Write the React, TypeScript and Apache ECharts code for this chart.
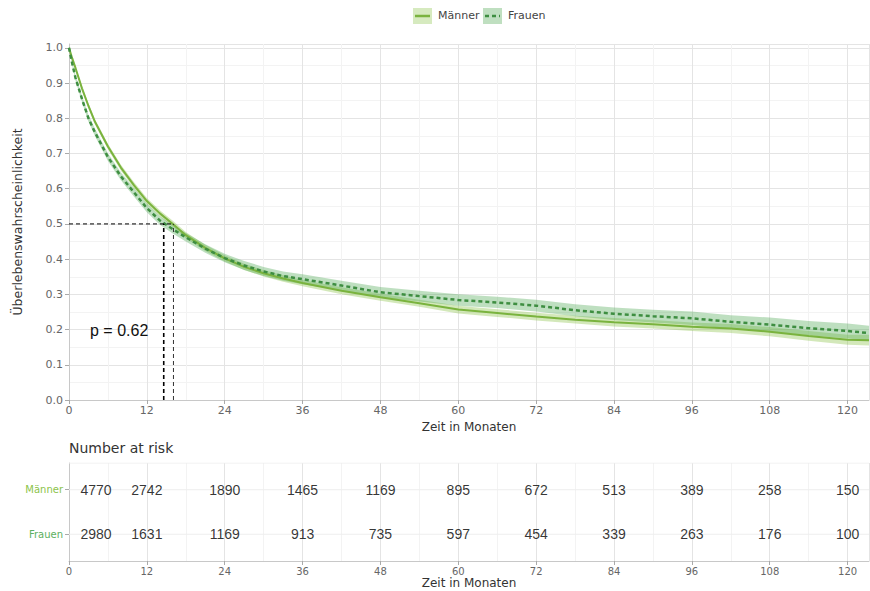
import React, { useEffect, useRef } from 'react';
import * as echarts from 'echarts';

// ---- Data ----
const times = [0, 0.5, 1, 2, 3, 4, 6, 8, 10, 12, 14, 16, 18, 21, 24, 27, 30, 33, 36, 42, 48, 54, 60, 66, 72, 78, 84, 90, 96, 102, 108, 114, 120, 123.3];

const maenner = [1.0, 0.97, 0.943, 0.885, 0.835, 0.79, 0.72, 0.66, 0.61, 0.565, 0.53, 0.5, 0.468, 0.432, 0.402, 0.378, 0.36, 0.345, 0.332, 0.31, 0.292, 0.275, 0.257, 0.247, 0.237, 0.228, 0.221, 0.215, 0.208, 0.203, 0.194, 0.182, 0.171, 0.17];
const maennerLower = [1.0, 0.966, 0.938, 0.879, 0.828, 0.783, 0.712, 0.652, 0.601, 0.556, 0.521, 0.491, 0.459, 0.423, 0.393, 0.369, 0.351, 0.336, 0.323, 0.3, 0.282, 0.265, 0.246, 0.236, 0.226, 0.217, 0.209, 0.203, 0.196, 0.19, 0.181, 0.168, 0.157, 0.155];
const maennerUpper = [1.0, 0.974, 0.948, 0.891, 0.842, 0.797, 0.728, 0.668, 0.619, 0.574, 0.539, 0.509, 0.477, 0.441, 0.411, 0.387, 0.369, 0.354, 0.341, 0.32, 0.302, 0.285, 0.268, 0.258, 0.248, 0.239, 0.233, 0.227, 0.22, 0.216, 0.207, 0.196, 0.185, 0.185];

const frauen = [1.0, 0.955, 0.915, 0.855, 0.8, 0.76, 0.69, 0.635, 0.59, 0.545, 0.51, 0.485, 0.462, 0.43, 0.403, 0.382, 0.365, 0.352, 0.343, 0.325, 0.306, 0.295, 0.284, 0.277, 0.268, 0.255, 0.245, 0.238, 0.232, 0.222, 0.214, 0.204, 0.196, 0.19];
const frauenLower = [1.0, 0.949, 0.907, 0.846, 0.79, 0.75, 0.679, 0.624, 0.578, 0.533, 0.498, 0.473, 0.45, 0.418, 0.391, 0.369, 0.352, 0.339, 0.329, 0.311, 0.291, 0.28, 0.268, 0.261, 0.251, 0.238, 0.227, 0.22, 0.213, 0.203, 0.194, 0.184, 0.175, 0.169];
const frauenUpper = [1.0, 0.961, 0.923, 0.864, 0.81, 0.77, 0.701, 0.646, 0.602, 0.557, 0.522, 0.497, 0.474, 0.442, 0.415, 0.395, 0.378, 0.365, 0.357, 0.339, 0.321, 0.31, 0.3, 0.293, 0.285, 0.272, 0.263, 0.256, 0.251, 0.241, 0.234, 0.224, 0.217, 0.211];

const medianFrauen = 14.6;
const medianMaenner = 16.1;
const pValueLabel = 'p = 0.62';

const riskTimes = [0, 12, 24, 36, 48, 60, 72, 84, 96, 108, 120];
const riskMaenner = [4770, 2742, 1890, 1465, 1169, 895, 672, 513, 389, 258, 150];
const riskFrauen = [2980, 1631, 1169, 913, 735, 597, 454, 339, 263, 176, 100];
const riskRows = [2, 1]; // Männer row, Frauen row

const groupNames = ['Männer', 'Frauen'];

// ---- Styles ----
const colM = '#7ab33e';
const colF = '#3e8e41';
const bandM = 'rgba(139,195,74,0.38)';
const bandF = 'rgba(76,165,80,0.36)';
const tickFont = 'DejaVu Sans';
const numFont = 'Liberation Sans';
const xMax = 123.3;

function bandSeries(lower: number[], upper: number[], color: string) {
  return {
    type: 'custom',
    xAxisIndex: 0,
    yAxisIndex: 0,
    silent: true,
    z: 1,
    data: [[0, 0]],
    renderItem: (_params: any, api: any) => {
      const pts: number[][] = [];
      for (let i = 0; i < times.length; i++) pts.push(api.coord([times[i], upper[i]]));
      for (let i = times.length - 1; i >= 0; i--) pts.push(api.coord([times[i], lower[i]]));
      return { type: 'polygon', shape: { points: pts }, style: { fill: color } };
    },
  };
}

function xAxisCfg(gridIndex: number, fontSize: number) {
  return {
    type: 'value',
    gridIndex,
    min: 0,
    max: xMax,
    interval: 12,
    axisLine: { show: true, lineStyle: { color: '#c8c8c8', width: 1 } },
    axisTick: { show: true, length: 4, lineStyle: { color: '#aaa' } },
    axisLabel: { fontFamily: tickFont, fontSize, color: '#666', margin: 5, showMaxLabel: false },
    splitLine: { show: true, lineStyle: { color: '#e4e4e4', width: 1 } },
    minorTick: { show: false, splitNumber: 2 },
    minorSplitLine: { show: true, lineStyle: { color: '#f3f3f3', width: 1 } },
    name: 'Zeit in Monaten',
    nameLocation: 'middle',
    nameGap: 15,
    nameTextStyle: { fontFamily: tickFont, fontSize: 12, color: '#333' },
  };
}

function riskSeries(values: number[], row: number) {
  return {
    type: 'scatter',
    xAxisIndex: 1,
    yAxisIndex: 1,
    symbolSize: 1,
    z: 5,
    itemStyle: { color: 'transparent' },
    silent: true,
    label: {
      show: true,
      position: 'inside',
      fontFamily: numFont,
      fontSize: 14,
      color: '#000',
      textBorderWidth: 0,
      formatter: (p: any) => String(p.value[2]),
    },
    data: riskTimes.map((t, i) => ({
      value: [t, row, values[i]],
      label: i === 0 ? { offset: [27, 0] } : undefined,
    })),
  };
}

function riskRowLine(row: number) {
  return {
    type: 'line',
    xAxisIndex: 1,
    yAxisIndex: 1,
    symbol: 'none',
    silent: true,
    z: 0,
    lineStyle: { color: '#eeeeee', width: 1 },
    data: [[0, row], [xMax, row]],
  };
}

export default function App() {
  const ref = useRef<HTMLDivElement>(null);

  useEffect(() => {
    if (!ref.current) return;
    const chart = echarts.init(ref.current, undefined, { renderer: 'svg' });

    const option: any = {
      animation: false,
      backgroundColor: '#fff',
      grid: [
        { left: 69, right: 1, top: 44, height: 356 },
        { left: 69, right: 1, top: 463, height: 98 },
      ],
      xAxis: [xAxisCfg(0, 11), xAxisCfg(1, 10)],
      yAxis: [
        {
          type: 'value',
          gridIndex: 0,
          min: 0,
          max: 1.011,
          interval: 0.1,
          axisLine: { show: true, lineStyle: { color: '#c8c8c8', width: 1 } },
          axisTick: { show: true, length: 4, lineStyle: { color: '#aaa' } },
          axisLabel: {
            fontFamily: tickFont,
            fontSize: 11,
            color: '#666',
            margin: 6,
            showMaxLabel: false,
            formatter: (v: number) => v.toFixed(1),
          },
          splitLine: { show: true, lineStyle: { color: '#e4e4e4', width: 1 } },
          minorTick: { show: false, splitNumber: 2 },
          minorSplitLine: { show: true, lineStyle: { color: '#f3f3f3', width: 1 } },
          name: 'Überlebenswahrscheinlichkeit',
          nameLocation: 'middle',
          nameGap: 45,
          nameTextStyle: { fontFamily: tickFont, fontSize: 12.5, color: '#333' },
        },
        {
          type: 'value',
          gridIndex: 1,
          min: 0.4,
          max: 2.6,
          axisLine: { show: true, lineStyle: { color: '#c8c8c8', width: 1 } },
          axisTick: { show: true, length: 4, customValues: [1, 2], lineStyle: { color: '#aaa' } },
          axisLabel: {
            customValues: [1, 2],
            margin: 6,
            formatter: (v: number) => (Math.round(v) === 2 ? '{m|' + groupNames[0] + '}' : '{f|' + groupNames[1] + '}'),
            rich: {
              m: { fontFamily: tickFont, fontSize: 10, color: '#8bc34a' },
              f: { fontFamily: tickFont, fontSize: 10, color: '#5cb060' },
            },
          },
          splitLine: { show: false },
        },
      ],
      series: [
        bandSeries(maennerLower, maennerUpper, bandM),
        bandSeries(frauenLower, frauenUpper, bandF),
        {
          type: 'line',
          name: groupNames[0],
          xAxisIndex: 0,
          yAxisIndex: 0,
          showSymbol: false,
          symbol: 'none',
          z: 3,
          lineStyle: { color: colM, width: 2 },
          data: times.map((t, i) => [t, maenner[i]]),
        },
        {
          type: 'line',
          name: groupNames[1],
          xAxisIndex: 0,
          yAxisIndex: 0,
          showSymbol: false,
          symbol: 'none',
          z: 4,
          lineStyle: { color: colF, width: 2.5, type: [4, 3] },
          data: times.map((t, i) => [t, frauen[i]]),
        },
        {
          type: 'line',
          xAxisIndex: 0,
          yAxisIndex: 0,
          symbol: 'none',
          z: 5,
          lineStyle: { color: '#000', width: 1, type: [4, 3] },
          data: [[0, 0.5], [medianMaenner, 0.5]],
        },
        {
          type: 'line',
          xAxisIndex: 0,
          yAxisIndex: 0,
          symbol: 'none',
          z: 5,
          lineStyle: { color: '#000', width: 1.6, type: [4, 3] },
          data: [[medianFrauen, 0], [medianFrauen, 0.5]],
        },
        {
          type: 'line',
          xAxisIndex: 0,
          yAxisIndex: 0,
          symbol: 'none',
          z: 5,
          lineStyle: { color: '#333', width: 1, type: [4, 3] },
          data: [[medianMaenner, 0], [medianMaenner, 0.5]],
        },
        riskRowLine(riskRows[0]),
        riskRowLine(riskRows[1]),
        riskRowLine(2.6),
        riskSeries(riskMaenner, riskRows[0]),
        riskSeries(riskFrauen, riskRows[1]),
      ],
      graphic: [
        // legend
        { type: 'rect', left: 413, top: 8, shape: { width: 19, height: 16 }, style: { fill: '#d6eabf' } },
        { type: 'line', shape: { x1: 415, y1: 16, x2: 430, y2: 16 }, style: { stroke: colM, lineWidth: 2.5 } },
        { type: 'text', left: 438, top: 10, style: { text: groupNames[0], fontFamily: tickFont, fontSize: 11, fill: '#444' } },
        { type: 'rect', left: 483, top: 8, shape: { width: 19, height: 16 }, style: { fill: '#bfdfc0' } },
        { type: 'line', shape: { x1: 485, y1: 16, x2: 500, y2: 16 }, style: { stroke: colF, lineWidth: 2.5, lineDash: [4, 3] } },
        { type: 'text', left: 508, top: 10, style: { text: groupNames[1], fontFamily: tickFont, fontSize: 11, fill: '#444' } },
        // p value
        { type: 'text', left: 90, top: 322, z: 10, style: { text: pValueLabel, fontFamily: numFont, fontSize: 16, fill: '#111' } },
        // risk table title
        { type: 'text', left: 69, top: 441, style: { text: 'Number at risk', fontFamily: tickFont, fontSize: 14, fill: '#333' } },
      ],
    };

    chart.setOption(option);
    return () => chart.dispose();
  }, []);

  return (
    <div
      ref={ref}
      style={{ position: 'fixed', left: 0, top: 0, width: 870, height: 591, background: '#fff' }}
    />
  );
}
